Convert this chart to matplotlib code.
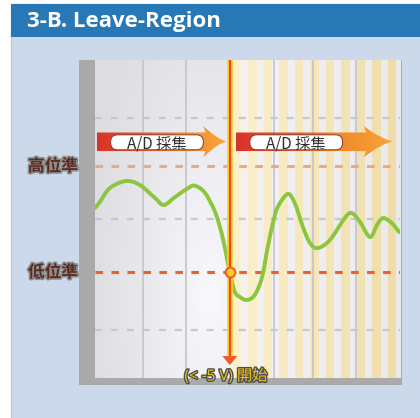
import numpy as np
import matplotlib.pyplot as plt
import matplotlib.patheffects as pe
from matplotlib.patches import Rectangle, FancyBboxPatch, Polygon, PathPatch
from matplotlib.path import Path
from matplotlib.colors import LinearSegmentedColormap, to_rgb

plt.rcParams['font.family'] = ['Noto Sans CJK TC', 'DejaVu Sans']
plt.rcParams['lines.scale_dashes'] = False

# --- data (time in grid divisions, trigger at 0; signal in volts) ---
t = np.array([-3.10, -2.99, -2.76, -2.39, -2.07, -1.72, -1.52, -1.26, -0.92, -0.78,
              -0.57, -0.34, -0.18, -0.07, 0.00, 0.11, 0.23, 0.39, 0.57, 0.74,
              0.87, 0.99, 1.10, 1.33, 1.49, 1.68, 1.84, 2.02, 2.30, 2.64,
              2.80, 2.99, 3.22, 3.38, 3.52, 3.72, 3.89])
v = np.array([1.07, 1.63, 2.95, 3.61, 3.24, 2.01, 1.35, 2.10, 3.05, 3.14,
              2.48, 0.69, -1.48, -3.65, -5.03, -6.82, -7.33, -7.61, -7.14, -5.44,
              -2.61, -0.35, 1.16, 2.39, 1.54, -0.73, -2.23, -2.71, -1.95, 0.12,
              0.59, -0.25, -1.67, -0.54, 0.12, -0.35, -1.20])

high_level = 5.0
low_level = -5.0
trigger_t = 0.0
t_start, t_end = -3.10, 3.91
v_min, v_max = -14.97, 15.03
grid_t = [-2.0, -1.0, 1.01, 1.91, 2.90]
grid_v = [9.6, 0.0, -10.4]

title = "3-B. Leave-Region"
level_labels = ["高位準", "低位準"]
adc_label = "A/D 採集"
trigger_label = "(< -5 V) 開始"

W, H = 420, 418
fig = plt.figure(figsize=(W / 100, H / 100), dpi=100)

# --- page background / header (pixel coords) ---
bg = fig.add_axes([0, 0, 1, 1])
bg.set_xlim(0, W)
bg.set_ylim(H, 0)
bg.axis('off')
bg.add_patch(Rectangle((10.5, 3.5), W, H, facecolor='#ccd9ea', edgecolor='#c8c8c8', lw=1))
bg.add_patch(Rectangle((10.5, 3.5), W, 33.5, facecolor='#2878b5', lw=0))
bg.text(27, 21, title, color='white', fontsize=16, fontweight='bold',
        family='Open Sans', va='center', ha='left')

# chart frame
frame = '#aaaaaa'
bg.add_patch(Rectangle((79, 60), 16, 325, fc=frame, lw=0))
bg.add_patch(Rectangle((79, 378), 323, 7, fc=frame, lw=0))
bg.add_patch(Rectangle((399.5, 60), 2.5, 325, fc=frame, lw=0))

# --- chart axes ---
ax = fig.add_axes([95 / W, 1 - 378 / H, 305 / W, 318 / H])
ax.set_xlim(t_start, t_end)
ax.set_ylim(v_min, v_max)
ax.axis('off')

# left (pre-trigger) background gradient, brightest low near the trigger
xx = np.linspace(0, 1, 200)[None, :]
yy = np.linspace(0, 1, 120)[:, None]
d = np.sqrt(((xx - 0.85) * 1.0) ** 2 + ((yy - 0.25) * 0.8) ** 2)
g = 0.975 - 0.11 * np.clip(d / 0.9, 0, 1) ** 0.9
img = np.dstack([g, g, np.minimum(g + 0.02, 1)])
ax.imshow(img, extent=(t_start, trigger_t, v_min, v_max), origin='lower',
          aspect='auto', zorder=0, interpolation='bilinear')

# right (sampling) background with stripes
g2 = 0.955 - 0.035 * xx
img2 = np.dstack([g2, g2, np.minimum(g2 + 0.01, 1)])
ax.imshow(img2, extent=(trigger_t, t_end, v_min, v_max), origin='lower',
          aspect='auto', zorder=0, interpolation='bilinear')
c0, c1 = np.array(to_rgb('#fbf0cc')), np.array(to_rgb('#efdcaa'))
starts = np.arange(trigger_t + 0.07, t_end, 0.356)
for i, s in enumerate(starts):
    f = i / max(len(starts) - 1, 1)
    ax.axvspan(s, min(s + 0.195, t_end), color=c0 * (1 - f) + c1 * f, lw=0, zorder=1)

# grid
ax.vlines(grid_t, v_min, v_max, colors='#c6c6cc', lw=1.3, zorder=2)
ax.hlines(grid_v, t_start, t_end, colors='#c8c8cc', lw=1.6,
          linestyles=[(0, (5, 6.5))], zorder=2)
ax.hlines(high_level, t_start, t_end, colors='#f4a582', lw=2.2,
          linestyles=[(0, (5.5, 6))], zorder=3)
ax.hlines(low_level, t_start, t_end, colors='#f0602c', lw=2.2,
          linestyles=[(0, (5.5, 6))], zorder=3)

# level labels
for lvl, lab in zip([high_level, low_level], level_labels):
    ax.text(-0.138, lvl, lab, transform=ax.get_yaxis_transform(), ha='center',
            va='center', fontsize=12, fontweight='bold', color='#5a2b1f',
            clip_on=False,
            path_effects=[pe.withStroke(linewidth=2.4, foreground='#8e8e8e')])

# A/D sampling arrows
cmap = LinearSegmentedColormap.from_list('adc', ['#d7322a', '#e4552c', '#f08a2c', '#f8a53a'])


def adc_arrow(x0, x_tip, head_len):
    xb = x_tip - head_len
    bt, bb, ht, hb, mid = 8.19, 6.44, 8.8, 5.85, 7.35
    verts = [(x0, bb), (x0, bt), (xb, bt), (xb - 0.05, ht),
             (xb + 0.55 * head_len, mid + 0.15 * (ht - mid)), (x_tip, mid),
             (xb + 0.55 * head_len, mid - 0.15 * (mid - hb)), (xb - 0.05, hb),
             (xb, bb), (x0, bb)]
    codes = [Path.MOVETO, Path.LINETO, Path.LINETO, Path.LINETO,
             Path.CURVE3, Path.CURVE3, Path.CURVE3, Path.CURVE3,
             Path.LINETO, Path.CLOSEPOLY]
    patch = PathPatch(Path(verts, codes), fc='none', ec='none')
    ax.add_patch(patch)
    grad = np.linspace(0, 1, 256)[None, :]
    im = ax.imshow(grad, cmap=cmap, extent=(x0, x_tip, hb, ht), aspect='auto',
                   zorder=4, interpolation='bilinear')
    im.set_clip_path(patch)
    box = FancyBboxPatch((x0 + 0.32, 6.56), 2.13, 1.41,
                         boxstyle='round,pad=0,rounding_size=0.16',
                         mutation_aspect=4.1, fc='white', ec='#8a3a2a', lw=0.7,
                         zorder=5)
    ax.add_patch(box)
    ax.text(x0 + 0.32 + 1.06, 7.15, adc_label, ha='center', va='center',
            fontsize=11, color='#2e2e2e', zorder=6)


adc_arrow(t_start + 0.04, trigger_t - 0.08, 0.48)
adc_arrow(trigger_t + 0.14, t_end - 0.16, 0.62)


# signal, drawn as a smooth Bezier path through the read points
def smooth_path(x, y):
    n = len(x)
    verts = [(x[0], y[0])]
    codes = [Path.MOVETO]
    for i in range(n - 1):
        x0, y0 = (x[i - 1], y[i - 1]) if i > 0 else (x[i], y[i])
        x3, y3 = (x[i + 2], y[i + 2]) if i < n - 2 else (x[i + 1], y[i + 1])
        verts += [(x[i] + (x[i + 1] - x0) / 6, y[i] + (y[i + 1] - y0) / 6),
                  (x[i + 1] - (x3 - x[i]) / 6, y[i + 1] - (y3 - y[i]) / 6),
                  (x[i + 1], y[i + 1])]
        codes += [Path.CURVE4] * 3
    return Path(verts, codes)


ax.add_patch(PathPatch(smooth_path(t, v), fc='none', ec='#8cc63f', lw=2.8,
                       joinstyle='round', capstyle='round', zorder=7))

# trigger line
ax.plot([trigger_t, trigger_t], [v_max, -12.9], color='#ffd21a', lw=4, zorder=8,
        solid_capstyle='butt')
ax.plot([trigger_t, trigger_t], [v_max, -12.9], color='#f0442a', lw=1.6, zorder=9,
        solid_capstyle='butt')
ax.add_patch(Polygon([(trigger_t - 0.172, -12.9), (trigger_t + 0.172, -12.9),
                      (trigger_t, -13.75)], closed=True, fc='#f05a28', ec='none',
                     zorder=9))
ax.plot(trigger_t, low_level, 'o', ms=7, mfc='#ffd21a', mec='#f05a28', mew=1.4,
        zorder=10)

ax.text(trigger_t - 0.09, -14.85, trigger_label, ha='center', va='center',
        fontsize=11, color='#f2c21b', clip_on=False, zorder=11,
        family=['Open Sans', 'Noto Sans CJK TC'],
        path_effects=[pe.withStroke(linewidth=2, foreground='#4e4e4e')])

fig.savefig('out.png', dpi=100)
